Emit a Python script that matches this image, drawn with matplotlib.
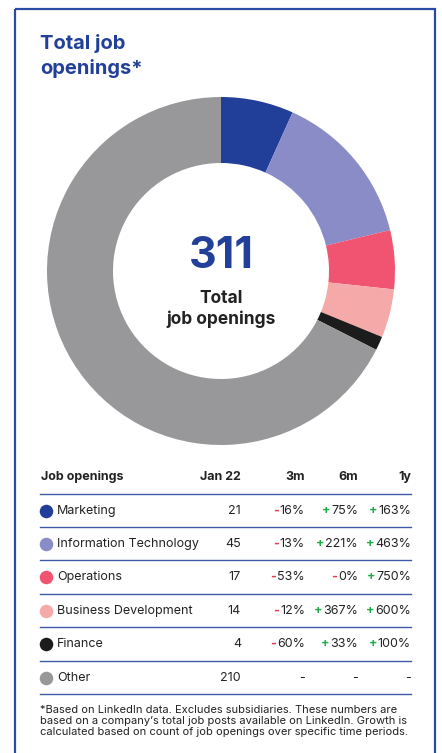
import matplotlib.pyplot as plt
from matplotlib.patches import Rectangle

plt.rcParams['font.family'] = ['Inter', 'DejaVu Sans']

categories = ["Marketing", "Information Technology", "Operations",
              "Business Development", "Finance", "Other"]
openings = [21, 45, 17, 14, 4, 210]
growth_3m = ["-16%", "-13%", "-53%", "-12%", "-60%", "-"]
growth_6m = ["+75%", "+221%", "-0%", "+367%", "+33%", "-"]
growth_1y = ["+163%", "+463%", "+750%", "+600%", "+100%", "-"]
colors = ["#213f99", "#8a8cc8", "#f05470", "#f6a9a9", "#1c1c1c", "#98989a"]
headers = ["Job openings", "Jan 22", "3m", "6m", "1y"]

BLUE = "#22409a"
TEXT = "#222222"
RED = "#e8384f"
GREEN = "#1faa4a"

W, H = 442, 753
fig = plt.figure(figsize=(W / 100, H / 100), dpi=100)

# full-figure axes working in pixel coordinates
bg = fig.add_axes([0, 0, 1, 1])
bg.set_xlim(0, W)
bg.set_ylim(H, 0)
bg.axis("off")

bg.add_patch(Rectangle((15, 9), 420, 760, fill=False, edgecolor="#2b4aa2", lw=1.6))

bg.text(40, 56, "Total job\nopenings*", color=BLUE, fontsize=14.5, fontweight="bold",
        va="center", ha="left", linespacing=1.35)

# donut
cx, cy, r = 221, 271, 174
pie_ax = fig.add_axes([(cx - r) / W, 1 - (cy + r) / H, 2 * r / W, 2 * r / H])
pie_ax.pie(openings, colors=colors, startangle=90, counterclock=False,
           wedgeprops=dict(width=66 / r, linewidth=0))
pie_ax.set_xlim(-1, 1)
pie_ax.set_ylim(-1, 1)
pie_ax.set_aspect("equal")
pie_ax.axis("off")

bg.text(cx, 256, str(sum(openings)), color=BLUE, fontsize=31, fontweight="bold",
        ha="center", va="center")
bg.text(cx, 309, "Total\njob openings", color=TEXT, fontsize=12.5, fontweight="bold",
        ha="center", va="center", linespacing=1.2)

# table
col_x = [57, 241, 305, 358, 411]
header_y = 477
bg.text(41, header_y, headers[0], fontsize=9, fontweight="bold", color=TEXT,
        ha="left", va="center")
for x, h in zip(col_x[1:], headers[1:]):
    bg.text(x, header_y, h, fontsize=9, fontweight="bold", color=TEXT,
            ha="right", va="center")

line_ys = [494, 527, 560, 594, 627, 661, 694]
row_ys = [511, 544, 577, 611, 644, 678]
for y in line_ys:
    bg.plot([40, 411], [y, y], color="#3e5aa8", lw=1.0)

fig.canvas.draw()
renderer = fig.canvas.get_renderer()
FS = 9


def signed_value(x, y, s):
    # sign is coloured, number stays dark
    if s == "-":
        bg.text(x, y, s, fontsize=FS, color=TEXT, ha="right", va="center")
        return
    sign, num = s[0], s[1:]
    t = bg.text(x, y, num, fontsize=FS, color=TEXT, ha="right", va="center")
    bb = t.get_window_extent(renderer)
    left = bg.transData.inverted().transform((bb.x0, bb.y0))[0]
    bg.text(left - 1, y, sign, fontsize=FS, fontweight="bold",
            color=RED if sign == "-" else GREEN, ha="right", va="center")


for i, y in enumerate(row_ys):
    bg.scatter([46], [y], s=95, color=colors[i], zorder=3, linewidths=0)
    bg.text(col_x[0], y, categories[i], fontsize=FS, color=TEXT, ha="left", va="center")
    bg.text(col_x[1], y, str(openings[i]), fontsize=FS, color=TEXT, ha="right", va="center")
    signed_value(col_x[2], y, growth_3m[i])
    signed_value(col_x[3], y, growth_6m[i])
    signed_value(col_x[4], y, growth_1y[i])

footnote = ("*Based on LinkedIn data. Excludes subsidiaries. These numbers are\n"
            "based on a company\u2019s total job posts available on LinkedIn. Growth is\n"
            "calculated based on count of job openings over specific time periods.")
bg.text(40, 721, footnote, fontsize=8, color=TEXT, ha="left", va="center",
        linespacing=1.12)

fig.savefig("out.png", dpi=100)
